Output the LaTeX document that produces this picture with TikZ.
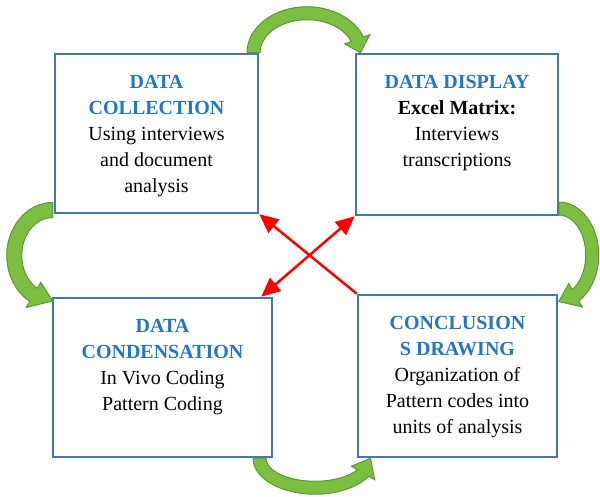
\documentclass[tikz,border=0pt]{standalone}
\usepackage{xcolor}
\usepackage{fontspec}
\setmainfont{Liberation Serif}
\usepackage{tikz}
\usetikzlibrary{calc}
\usetikzlibrary{arrows.meta}
\usetikzlibrary{positioning}

\definecolor{boxblue}{RGB}{68,114,196}
\definecolor{titleblue}{RGB}{34,118,196}
\definecolor{arcgreen}{RGB}{124,190,66}
\definecolor{arcedge}{RGB}{92,152,48}

\tikzset{
  stagebox/.style={rectangle, draw=boxblue, line width=2.5pt, fill=white},
  stagetext/.style={align=center, inner sep=0pt, font=\fontsize{20}{26}\selectfont},
  crossarrow/.style={draw=red, line width=2.5pt},
  bentarrow/.style={fill=arcgreen, draw=arcedge, line width=1pt}
}

\newcommand{\stagetitle}[1]{\textcolor{titleblue}{\bfseries #1}}

% #1 centre, #2 x radius, #3 y radius, #4 band, #5 start angle, #6 head angle, #7 tip angle
\newcommand{\bentarc}[7]{%
  \pgfmathsetmacro{\rxo}{#2}\pgfmathsetmacro{\ryo}{#3}%
  \pgfmathsetmacro{\rxi}{#2-#4}\pgfmathsetmacro{\ryi}{#3-#4}%
  \pgfmathsetmacro{\rxm}{#2-#4/2}\pgfmathsetmacro{\rym}{#3-#4/2}%
  \pgfmathsetmacro{\rxb}{#2+7}\pgfmathsetmacro{\ryb}{#3+7}%
  \pgfmathsetmacro{\rxc}{#2-#4-7}\pgfmathsetmacro{\ryc}{#3-#4-7}%
  \path [bentarrow] ($#1+(#5:\rxo pt and \ryo pt)$)
    arc [start angle=#5, end angle=#6, x radius=\rxo pt, y radius=\ryo pt]
    -- ($#1+(#6:\rxb pt and \ryb pt)$)
    -- ($#1+(#7:\rxm pt and \rym pt)$)
    -- ($#1+(#6:\rxc pt and \ryc pt)$)
    -- ($#1+(#6:\rxi pt and \ryi pt)$)
    arc [start angle=#6, end angle=#5, x radius=\rxi pt, y radius=\ryi pt]
    -- cycle;}

\begin{document}
\begin{tikzpicture}[x=1pt, y=1pt]
\useasboundingbox (0, 0) rectangle (600, 497);

\node [stagebox, minimum width=203pt, minimum height=159pt] (collect) at (156.5, 363.5) {};
\node [stagebox, minimum width=202pt, minimum height=161pt] (display) at (457, 362.5) {};
\node [stagebox, minimum width=219pt, minimum height=159pt] (condense) at (162.5, 119.5) {};
\node [stagebox, minimum width=199pt, minimum height=162pt] (conclude) at (457.5, 121) {};

\node [stagetext, below=22.5pt of collect.north] (collecttext) {\stagetitle{DATA}\\ \stagetitle{COLLECTION}\\ Using interviews\\ and document\\ analysis};
\node [stagetext, below=22.5pt of display.north] (displaytext) {\stagetitle{DATA DISPLAY}\\ \textbf{Excel Matrix:}\\ Interviews\\ transcriptions};
\node [stagetext, below=22.5pt of condense.north] (condensetext) {\stagetitle{DATA}\\ \stagetitle{CONDENSATION}\\ In Vivo Coding\\ Pattern Coding};
\node [stagetext, below=22.5pt of conclude.north] (concludetext) {\stagetitle{CONCLUSION}\\ \stagetitle{S DRAWING}\\ Organization of\\ Pattern codes into\\ units of analysis};

\coordinate (topmid) at ($(collect.north east)!0.5!(display.north west)$);
\coordinate (rightmid) at ($(display.south east)!0.5!(conclude.north east)$);
\coordinate (leftmid) at ($(collect.south west)!0.5!(condense.north west)$);
\coordinate (bottommid) at ($(condense.south east)!0.5!(conclude.south west)$);

\bentarc{(topmid)}{60}{46}{13}{180}{20}{0}
\bentarc{(rightmid)}{40}{53}{13}{90}{-60}{-90}
\bentarc{(leftmid)}{46}{53}{15}{90}{240}{270}
\bentarc{(bottommid)}{62}{36}{13}{180}{330}{360}

\coordinate (crossstart) at ($(condense.north east)+(-12, 0)$);
\draw [crossarrow, -{Triangle[length=19pt, width=17pt]}] (conclude.north west) to (collect.south east);
\draw [crossarrow, {Triangle[length=19pt, width=17pt]}-{Triangle[length=19pt, width=17pt]}] (crossstart) to (display.south west);
\end{tikzpicture}
\end{document}
